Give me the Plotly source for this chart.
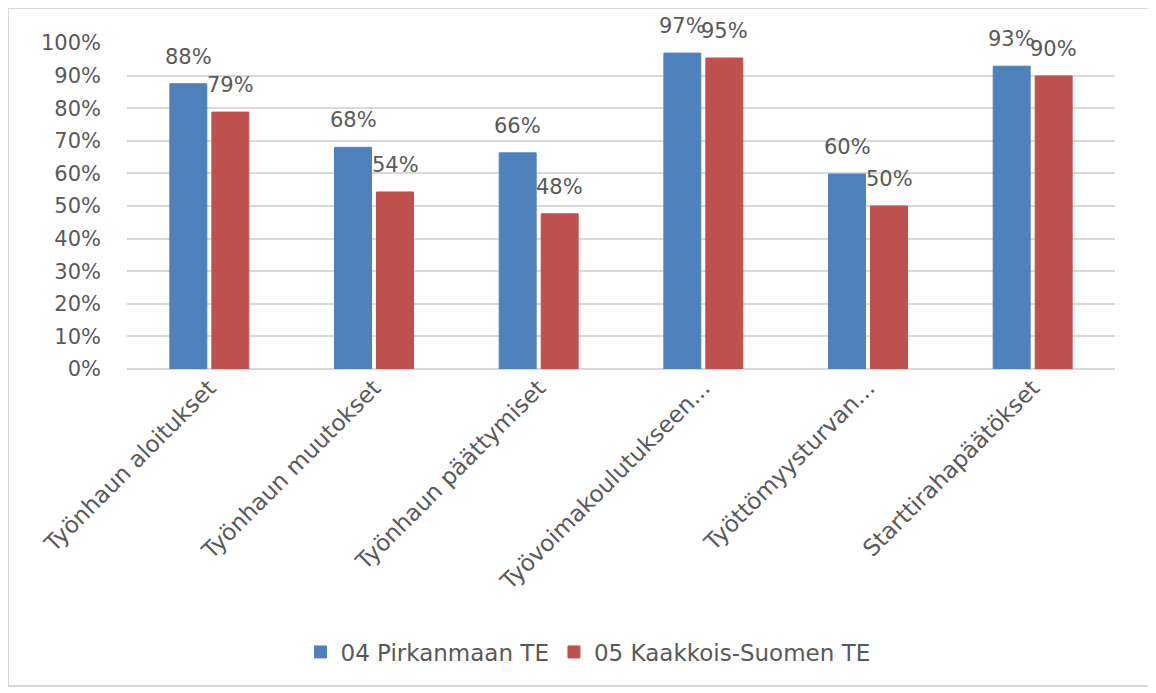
import plotly.graph_objects as go

categories = ["Työnhaun aloitukset", "Työnhaun muutokset", "Työnhaun päättymiset",
              "Työvoimakoulutukseen...", "Työttömyysturvan...", "Starttirahapäätökset"]
series_names = ["04 Pirkanmaan TE", "05 Kaakkois-Suomen TE"]
pirkanmaa = [0.875, 0.68, 0.663, 0.969, 0.598, 0.929]
kaakkois = [0.788, 0.543, 0.476, 0.954, 0.50, 0.899]
tick_vals = [0, 0.1, 0.2, 0.3, 0.4, 0.5, 0.6, 0.7, 0.8, 0.9, 1.0]
tick_text = ["0%", "10%", "20%", "30%", "40%", "50%", "60%", "70%", "80%", "90%", "100%"]

BLUE = "#4f81bd"
RED = "#c0504d"
GRAY = "#595959"
FONT = "DejaVu Sans, sans-serif"

fig = go.Figure()
for name, vals, col in [(series_names[0], pirkanmaa, BLUE), (series_names[1], kaakkois, RED)]:
    fig.add_trace(go.Bar(x=categories, y=vals, name=name,
                         marker=dict(color=col, line=dict(color=col, width=1))))

# data labels above bars
for vals, xs in [(pirkanmaa, -21), (kaakkois, 21)]:
    for c, v in zip(categories, vals):
        fig.add_annotation(x=c, y=v, text=f"{round(v*100):.0f}%", xref="x", yref="y",
                           showarrow=False, xshift=xs, yshift=27,
                           font=dict(family=FONT, size=21, color=GRAY))

OFF = 8  # page body offset
W, H = 1156, 693
L, R, T, B = 127 - OFF, 41 + OFF, 43 - OFF, 324 + OFF
pw, ph = W - L - R, H - T - B

def px(x):
    return (x - OFF - L) / pw

def py(y):
    return (H - B - (y - OFF)) / ph

fig.add_shape(type="rect", xref="paper", yref="paper",
              x0=px(8), x1=px(1150), y0=py(686), y1=py(8),
              line=dict(color="#d9d9d9", width=2), layer="below")

fig.update_layout(
    width=W, height=H,
    margin=dict(l=L, r=R, t=T, b=B, autoexpand=False),
    paper_bgcolor="white", plot_bgcolor="white",
    barmode="group", bargap=0.49, bargroupgap=0.12,
    font=dict(family=FONT, size=20, color=GRAY),
    showlegend=True,
    legend=dict(orientation="h", x=px(588), xanchor="center", y=py(652), yanchor="middle",
                font=dict(family=FONT, size=23, color=GRAY), traceorder="normal",
                itemwidth=30, tracegroupgap=0),
    xaxis=dict(tickangle=-45, tickfont=dict(family=FONT, size=23, color=GRAY),
               showgrid=False, showline=False, ticks="", automargin=False),
    yaxis=dict(range=[0, 1.0], tickvals=tick_vals, ticktext=tick_text,
               tickfont=dict(family=FONT, size=21, color=GRAY),
               showgrid=True, gridcolor="#d9d9d9", gridwidth=2,
               zeroline=True, zerolinecolor="#d9d9d9", zerolinewidth=2,
               showline=False, ticks="", ticklen=0, ticklabelstandoff=25,
               automargin=False),
)

fig.write_html("out.html")
